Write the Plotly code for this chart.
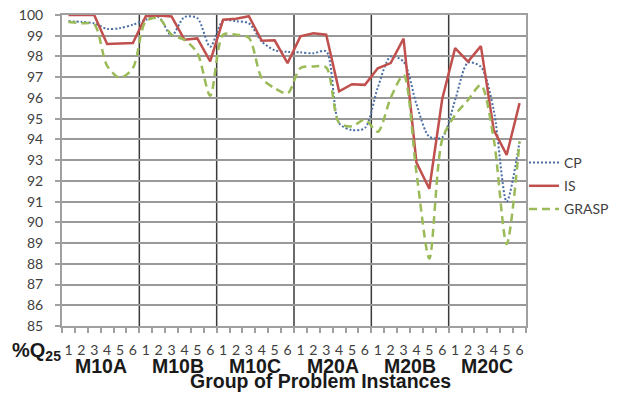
import plotly.graph_objects as go

groups = ["M10A", "M10B", "M10C", "M20A", "M20B", "M20C"]
instances = ["1", "2", "3", "4", "5", "6"]

cp = [99.70, 99.67, 99.60, 99.33, 99.37, 99.53,
      99.77, 99.90, 99.00, 99.90, 99.85, 98.47,
      99.73, 99.70, 99.60, 98.72, 98.30, 98.22,
      98.20, 98.15, 98.25, 94.78, 94.45, 94.55,
      96.50, 98.00, 97.75, 95.70, 94.13, 94.10,
      95.90, 97.70, 97.50, 95.40, 91.00, 93.90]

is_vals = [100.0, 100.0, 100.0, 98.60, 98.62, 98.65,
           99.94, 99.97, 99.93, 98.81, 98.87, 97.76,
           99.77, 99.82, 99.94, 98.76, 98.78, 97.68,
           98.97, 99.12, 99.05, 96.32, 96.66, 96.63,
           97.43, 97.68, 98.86, 92.88, 91.62, 95.95,
           98.40, 97.75, 98.50, 94.45, 93.25, 95.75]

grasp = [99.66, 99.60, 99.55, 97.55, 96.97, 97.44,
         99.70, 99.85, 99.05, 98.80, 98.17, 96.10,
         99.05, 99.05, 98.90, 96.95, 96.47, 96.22,
         97.44, 97.52, 97.47, 94.80, 94.63, 94.95,
         94.37, 96.00, 97.10, 92.40, 88.25, 94.00,
         95.18, 95.90, 96.62, 94.00, 88.95, 93.90]

y_ticks = list(range(85, 101))

n = len(groups) * len(instances)
xs = list(range(n))
tick_text = instances * len(groups)

# the page body has an 8px margin; size the figure to fit the 621x393 window
OFF = 8
W, H = 621 - OFF, 393 - OFF
PL, PR, PT, PB = 62, 526, 15, 326          # plot area in window pixels
L, T = PL - OFF, PT - OFF
R, B = W - (PR - OFF), H - (PB - OFF)
plot_h = PB - PT
plot_w = PR - PL

def py(px):  # window pixel y -> paper y
    return (PB - px) / plot_h

def pxp(px):  # window pixel x -> paper x
    return (px - PL) / plot_w

label_font = "Lato, Open Sans, sans-serif"
bold_font = "Liberation Sans, Arial, sans-serif"
txt_col = "#404040"

fig = go.Figure()
fig.add_trace(go.Scatter(x=xs, y=cp, name="CP", mode="lines", legendgroup="a",
                         line=dict(color="#4a6fa5", width=2, dash="2px,2px",
                                   shape="spline", smoothing=0.8)))
fig.add_trace(go.Scatter(x=xs, y=is_vals, name="IS", mode="lines", legendgroup="b",
                         line=dict(color="#c0504d", width=2.5)))
fig.add_trace(go.Scatter(x=xs, y=grasp, name="GRASP", mode="lines", legendgroup="c",
                         line=dict(color="#9bbb59", width=2.5, dash="8px,5px",
                                   shape="spline", smoothing=0.8)))

# group separators
for k in range(1, len(groups)):
    xb = k * len(instances) - 0.5
    fig.add_shape(type="line", x0=xb, x1=xb, y0=0, y1=1, xref="x", yref="paper",
                  line=dict(color="#3a3a3a", width=1.5), layer="below")

# group labels
for k, g in enumerate(groups):
    fig.add_annotation(x=k * len(instances) + (len(instances) - 1) / 2, y=py(366),
                       xref="x", yref="paper", text="<b>" + g + "</b>", showarrow=False,
                       font=dict(family=bold_font, size=19.5, color="#1a1a1a"),
                       xanchor="center", yanchor="middle")

fig.add_annotation(x=pxp(320), y=py(381), xref="paper", yref="paper",
                   text="<b>Group of Problem Instances</b>", showarrow=False,
                   font=dict(family=bold_font, size=19.5, color="#1a1a1a"),
                   xanchor="center", yanchor="middle")

fig.add_annotation(x=pxp(63), y=py(351), xref="paper", yref="paper",
                   text="<b>%Q<sub>25</sub></b>", showarrow=False,
                   font=dict(family=bold_font, size=20, color="#1a1a1a"),
                   xanchor="right", yanchor="middle")

fig.update_layout(
    width=W, height=H,
    margin=dict(l=L, r=R, t=T, b=B, autoexpand=False),
    paper_bgcolor="white", plot_bgcolor="white",
    legend=dict(x=pxp(524), y=py(147), xanchor="left", yanchor="top",
                bgcolor="rgba(0,0,0,0)", itemwidth=30, tracegroupgap=2,
                traceorder="grouped",
                font=dict(family=label_font, size=14, color=txt_col)),
    xaxis=dict(range=[-0.5, n - 0.5], tickmode="array", tickvals=xs, ticktext=tick_text,
               ticks="outside", ticklen=10, tickcolor="rgba(0,0,0,0)",
               showgrid=False, zeroline=False,
               showline=True, linecolor="#a0a0a0", linewidth=2, mirror=True,
               tickfont=dict(family=label_font, size=14, color=txt_col),
               minor=dict(tickmode="array", tickvals=[i - 0.5 for i in range(n + 1)],
                          ticks="outside", ticklen=5, tickcolor="#a0a0a0", tickwidth=1.5,
                          showgrid=False)),
    yaxis=dict(range=[85, 100], tickmode="array", tickvals=y_ticks,
               ticks="outside", ticklen=5, tickcolor="#a0a0a0", tickwidth=1.5,
               ticklabelstandoff=9, ticklabeloverflow="allow",
               showgrid=True, gridcolor="#999999", gridwidth=1.5, zeroline=False,
               showline=True, linecolor="#a0a0a0", linewidth=2, mirror=True,
               tickfont=dict(family=label_font, size=14, color=txt_col)),
)

fig.write_html("out.html")
